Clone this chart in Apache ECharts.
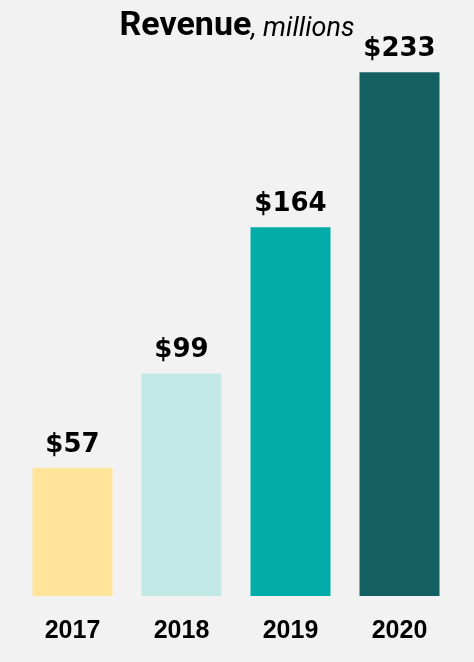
<!DOCTYPE html>
<html><head><meta charset="utf-8">
<script src="https://cdn.jsdelivr.net/npm/echarts@6/dist/echarts.min.js"></script>
<style>html,body{margin:0;padding:0;background:#f2f2f2;}#c{width:474px;height:662px;}</style>
</head><body><div id="c"></div>
<script>
const categories = ['2017', '2018', '2019', '2020'];
const revenue = [57, 99, 164, 233];
const barColors = ['#FFE49A', '#C3E9E7', '#02ADA9', '#145F61'];

const chart = echarts.init(document.getElementById('c'));
chart.setOption({
  backgroundColor: '#f2f2f2',
  title: {
    text: '{b|Revenue}{i|, millions}',
    left: 'center', top: 4,
    textStyle: {
      rich: {
        b: { fontFamily: 'Roboto', fontWeight: 'bold', fontSize: 34, color: '#000' },
        i: { fontFamily: 'Roboto', fontStyle: 'italic', fontWeight: 'normal', fontSize: 27, color: '#000', padding: [6, 0, 0, 0] }
      }
    }
  },
  grid: { left: 18, right: 20, top: 34, bottom: 66 },
  xAxis: {
    type: 'category', data: categories,
    axisLine: { show: false }, axisTick: { show: false },
    axisLabel: { margin: 23, color: '#000', fontFamily: 'Liberation Sans', fontWeight: 'bold', fontSize: 25 }
  },
  yAxis: { type: 'value', min: 0, max: 250, show: false, splitLine: { show: false } },
  series: [{
    type: 'bar', barWidth: 80,
    data: revenue.map((v, i) => ({ value: v, itemStyle: { color: barColors[i] } })),
    label: {
      show: true, position: 'top', distance: 10,
      formatter: p => '$' + p.value,
      color: '#000', fontFamily: 'DejaVu Sans', fontWeight: 'bold', fontSize: 26
    }
  }]
});
</script></body></html>
